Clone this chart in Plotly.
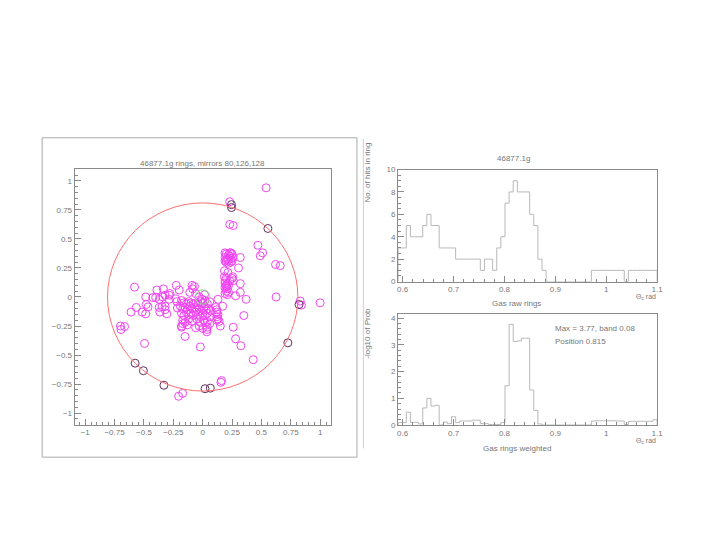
import numpy as np
import plotly.graph_objects as go

# ring finder display: hit positions (magenta), ring hits (dark), fitted ring
hit_x = [0.54, 0.23, 0.23, 0.26, 0.47, 0.51, 0.49, 0.62, 0.66, 0.625, 0.32, 0.305, 0.185, 0.215,
         0.255, 0.25, 0.26, 0.185, 0.32, 0.32, 0.28, 0.37, 0.13, 0.17, 0.15, 0.26, 0.35, 0.28,
         0.325, 0.43, 0.83, 0.84, 1.0, 0.16, 0.155, -0.205, -0.17, -0.495, -0.70, -0.695, -0.665,
         -0.61, -0.565, -0.58, -0.485, -0.515, -0.485, -0.48, -0.465, -0.39, -0.425, -0.40, -0.37,
         -0.335, -0.34, -0.32, -0.285, -0.37, -0.345, -0.32, -0.32, -0.305, -0.365, -0.28, -0.285,
         -0.23, -0.22, -0.215, -0.225, -0.2, -0.15, -0.18, -0.17, -0.02, 0.035, 0.035, -0.06, 0.02,
         # upper column
         0.19, 0.20, 0.22, 0.23, 0.24, 0.25, 0.19, 0.21, 0.22, 0.24, 0.26, 0.19, 0.20, 0.22, 0.24,
         0.25, 0.23, 0.20,
         # lower column
         0.19, 0.20, 0.21, 0.19, 0.21, 0.20, 0.22, 0.19, 0.21, 0.20, 0.22, 0.20, 0.23, 0.19,
         # right column
         0.11, 0.12, 0.12, 0.13, 0.12, 0.13, 0.14, 0.12,
         # central cluster
         -0.09, -0.085, -0.07, -0.06, -0.11,
         -0.18, -0.16, -0.14, -0.12, -0.10, -0.08, -0.06, -0.04, -0.02, 0.0, 0.02, 0.04, 0.06,
         -0.19, -0.17, -0.15, -0.13, -0.11, -0.09, -0.07, -0.05, -0.03, -0.01, 0.01, 0.03, 0.05, 0.07,
         -0.18, -0.16, -0.14, -0.12, -0.10, -0.08, -0.06, -0.04, -0.02, 0.0, 0.02, 0.04, 0.06,
         -0.17, -0.15, -0.12, -0.09, -0.05, -0.02, 0.01, 0.04, 0.06,
         -0.18, -0.03, 0.0, 0.04, -0.13, -0.005, 0.015, -0.03]
hit_y = [0.94, 0.82, 0.625, 0.615, 0.445, 0.38, 0.355, 0.28, 0.27, 0.0, 0.34, 0.25, 0.225, 0.21,
         0.175, 0.16, 0.14, 0.175, 0.115, 0.04, 0.01, -0.02, -0.02, -0.08, -0.25, -0.26, -0.16, -0.36,
         -0.42, -0.54, -0.035, -0.07, -0.05, -0.72, -0.735, -0.855, -0.83, -0.40, -0.25, -0.28, -0.255,
         -0.13, -0.09, 0.085, 0.0, -0.13, -0.145, -0.065, -0.085, 0.06, -0.005, -0.005, -0.02,
         0.07, 0.0, 0.015, 0.015, -0.09, -0.085, -0.08, -0.11, -0.145, -0.13, 0.03, -0.02,
         -0.015, -0.04, -0.095, 0.1, 0.06, -0.34, -0.25, -0.23, -0.43, -0.28, -0.30, -0.265, -0.22,
         0.38, 0.37, 0.36, 0.38, 0.38, 0.37, 0.34, 0.33, 0.32, 0.33, 0.34, 0.31, 0.30, 0.29, 0.30,
         0.31, 0.35, 0.32,
         0.12, 0.10, 0.11, 0.08, 0.07, 0.05, 0.04, 0.03, 0.02, 0.09, 0.10, 0.16, 0.14, 0.14,
         -0.09, -0.11, -0.13, -0.15, -0.17, -0.19, -0.21, -0.20,
         0.10, 0.07, 0.09, 0.03, 0.04,
         -0.03, -0.05, -0.06, -0.04, -0.05, -0.06, -0.05, -0.07, -0.04, -0.05, -0.03, -0.06, -0.04,
         -0.08, -0.10, -0.09, -0.11, -0.08, -0.10, -0.09, -0.11, -0.10, -0.12, -0.09, -0.11, -0.10, -0.12,
         -0.14, -0.16, -0.13, -0.15, -0.14, -0.16, -0.13, -0.15, -0.17, -0.14, -0.16, -0.14, -0.17,
         -0.20, -0.22, -0.19, -0.21, -0.19, -0.22, -0.20, -0.21, -0.23,
         -0.26, -0.25, -0.27, -0.26, -0.24, -0.02, 0.02, 0.0]

ring_x = [0.245, 0.245, 0.555, 0.82, 0.725, 0.065, 0.02, -0.33, -0.505, -0.575]
ring_y = [0.795, 0.77, 0.59, -0.065, -0.395, -0.785, -0.79, -0.76, -0.635, -0.57]

ring_radius = 0.81
centre_radius = 0.062

# histograms, 63 bins between 0.591 and 1.1
hist_lo, hist_hi, n_bins = 0.591, 1.1, 63
raw_counts = [3, 3, 5, 4, 4, 4, 5, 6, 5, 5, 3, 3, 3, 3, 2, 2, 2, 2, 2, 2, 1, 2, 2, 1, 3, 4, 7,
              8, 9, 8, 8, 8, 6, 5, 2, 1, 0, 0, 0, 0, 0, 0, 0, 0, 0, 0, 0,
              1, 1, 1, 1, 1, 1, 1, 1, 0, 1, 1, 1, 1, 1, 1, 1]
weighted = [0.09, 0.09, 0.48, 0.1, 0.1, 0.04, 0.64, 1.0, 0.71, 0.74, 0.0, 0.11, 0.05, 0.31,
            0.09, 0.15, 0.15, 0.15, 0.18, 0.18, 0.05, 0.05, 0.02, 0.02, 0.02, 0.09, 1.47, 3.77,
            3.13, 3.15, 3.25, 3.25, 1.31, 0.55, 0.04, 0, 0, 0, 0, 0, 0, 0, 0, 0, 0, 0, 0,
            0.15, 0.16, 0.16, 0.16, 0.16, 0.16, 0.15, 0.15, 0.02,
            0.14, 0.14, 0.14, 0.14, 0.14, 0.14, 0.2]

# the page body keeps its default 8px margin on every side, so the figure is made smaller
OFF = 8
W, H = 715 - 2 * OFF, 536 - 2 * OFF
txt = '#777777'
axc = '#8a8a8a'
font = dict(family='Liberation Sans, Arial, sans-serif', size=8, color=txt)


def px_x(p):
    return (p - OFF) / W


def px_y(p):
    return 1 - (p - OFF) / H


def steps(vals):
    edges = np.linspace(hist_lo, hist_hi, n_bins + 1)
    xs = [edges[0]] + list(edges) + [edges[-1]]
    ys = [0] + list(vals) + [vals[-1], 0]
    return xs, ys


fig = go.Figure()

fig.add_trace(go.Scatter(x=hit_x, y=hit_y, mode='markers', xaxis='x', yaxis='y',
                         marker=dict(symbol='circle-open', size=8, color='#f045f0',
                                     line=dict(width=1, color='#f045f0'))))
fig.add_trace(go.Scatter(x=ring_x, y=ring_y, mode='markers', xaxis='x', yaxis='y',
                         marker=dict(symbol='circle-open', size=8, color='#603060',
                                     line=dict(width=1, color='#603060'))))

hx, hy = steps(raw_counts)
fig.add_trace(go.Scatter(x=hx, y=hy, mode='lines', line_shape='hv', xaxis='x2', yaxis='y2',
                         line=dict(color='#b8b8b8', width=1)))
wx, wy = steps(weighted)
fig.add_trace(go.Scatter(x=wx, y=wy, mode='lines', line_shape='hv', xaxis='x3', yaxis='y3',
                         line=dict(color='#b8b8b8', width=1)))

ax = dict(showline=True, linecolor=axc, linewidth=1, mirror=True, ticks='inside',
          tickcolor=axc, ticklen=6, showgrid=False, zeroline=False, tickfont=font)

fig.update_layout(
    width=W, height=H, margin=dict(l=0, r=0, t=0, b=0),
    paper_bgcolor='white', plot_bgcolor='white', showlegend=False, font=font,
    xaxis=dict(ax, domain=[px_x(74.3), px_x(333)], range=[-1.09, 1.09], anchor='y',
               tickvals=[-1, -0.75, -0.5, -0.25, 0, 0.25, 0.5, 0.75, 1],
               ticktext=['−1', '−0.75', '−0.5', '−0.25', '0', '0.25', '0.5', '0.75', '1'],
               minor=dict(ticks='inside', ticklen=3, dtick=0.05, tickcolor=axc)),
    yaxis=dict(ax, domain=[px_y(428), px_y(168)], range=[-1.1, 1.1], anchor='x',
               tickvals=[-1, -0.75, -0.5, -0.25, 0, 0.25, 0.5, 0.75, 1],
               ticktext=['−1', '−0.75', '−0.5', '−0.25', '0', '0.25', '0.5', '0.75', '1'],
               minor=dict(ticks='inside', ticklen=3, dtick=0.05, tickcolor=axc)),
    xaxis2=dict(ax, domain=[px_x(401), px_x(662.7)], range=[hist_lo, hist_hi], anchor='y2',
                tickvals=[0.6, 0.7, 0.8, 0.9, 1, 1.1],
                minor=dict(ticks='inside', ticklen=3, dtick=0.02, tickcolor=axc)),
    yaxis2=dict(ax, domain=[px_y(282.3), px_y(168.3)], range=[0, 10], anchor='x2',
                dtick=2, minor=dict(ticks='inside', ticklen=3, dtick=0.5, tickcolor=axc)),
    xaxis3=dict(ax, domain=[px_x(401), px_x(662.7)], range=[hist_lo, hist_hi], anchor='y3',
                tickvals=[0.6, 0.7, 0.8, 0.9, 1, 1.1],
                minor=dict(ticks='inside', ticklen=3, dtick=0.02, tickcolor=axc)),
    yaxis3=dict(ax, domain=[px_y(428.3), px_y(315)], range=[0, 4.17], anchor='x3',
                dtick=1, minor=dict(ticks='inside', ticklen=3, dtick=0.2, tickcolor=axc)),
)

shapes = [
    dict(type='circle', xref='x', yref='y', x0=-ring_radius, y0=-ring_radius,
         x1=ring_radius, y1=ring_radius, line=dict(color='#ff7070', width=1)),
    dict(type='circle', xref='x', yref='y', x0=-centre_radius, y0=-centre_radius,
         x1=centre_radius, y1=centre_radius, line=dict(color='#80e080', width=1)),
    dict(type='rect', xref='paper', yref='paper', x0=px_x(41.5), x1=px_x(359.5),
         y0=px_y(461), y1=px_y(136), line=dict(color='#aaaaaa', width=1)),
    dict(type='line', xref='paper', yref='paper', x0=px_x(366), x1=px_x(366),
         y0=px_y(452), y1=px_y(137), line=dict(color='#d0d0d0', width=1)),
]
fig.update_layout(shapes=shapes)


def note(text, x, y, xanchor='center', angle=0, size=8):
    fig.add_annotation(text=text, x=px_x(x), y=px_y(y), xref='paper', yref='paper',
                       showarrow=False, xanchor=xanchor, yanchor='middle', textangle=angle,
                       font=dict(font, size=size))


note('46877.1g rings, mirrors 80,126,128', 203.7, 162)
note('46877.1g', 518, 157)
note('No. of hits in ring', 370, 171, angle=-90)
note('Gas raw rings', 521, 305)
note('Θ<sub>c</sub> rad', 664, 298, xanchor='right', size=7)
note('-log10 of Prob', 370, 335, angle=-90)
note('Gas rings weighted', 521, 452)
note('Θ<sub>c</sub> rad', 664, 445, xanchor='right', size=7)
note('Max = 3.77, band 0.08', 557.7, 330, xanchor='left')
note('Position 0.815', 557.7, 343, xanchor='left')

fig.write_html("out.html")
